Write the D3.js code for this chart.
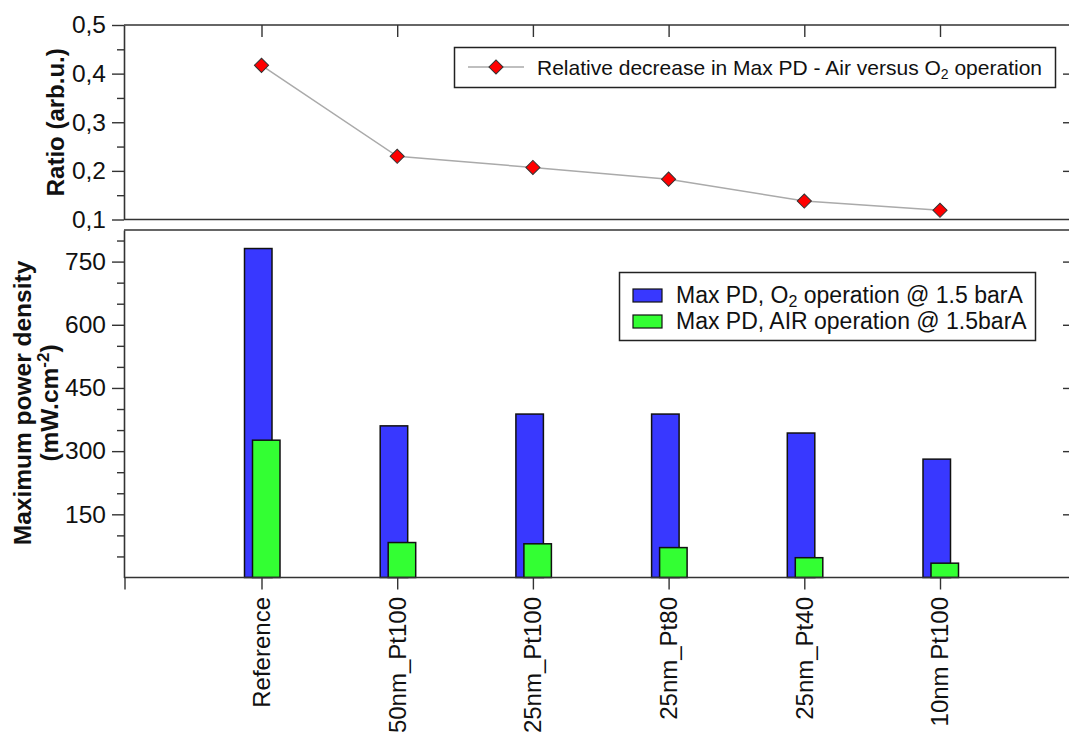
<!DOCTYPE html>
<html>
<head>
<meta charset="utf-8">
<script src="https://cdn.jsdelivr.net/npm/d3@7"></script>
<style>
  html, body { margin: 0; padding: 0; background: #fff; }
  svg { display: block; font-family: "Liberation Sans", Arial, sans-serif; }
</style>
</head>
<body>
<svg id="chart" width="1069" height="735"></svg>
<script>
// Samples along the x axis
const categories = ["Reference", "50nm_Pt100", "25nm_Pt100", "25nm_Pt80", "25nm_Pt40", "10nm Pt100"];
// Maximum power density (mW.cm-2)
const maxPdO2 = [781, 360, 388, 388, 343, 281];
const maxPdAir = [326, 83, 80, 71, 47, 34];
// Relative decrease, air versus O2
const ratio = [0.417, 0.230, 0.207, 0.183, 0.138, 0.119];
// Tick values
const ratioTicks = [0.1, 0.2, 0.3, 0.4, 0.5];
const ratioMinor = [0.15, 0.25, 0.35, 0.45];
const pdTicks = [150, 300, 450, 600, 750];
const pdMinor = [50, 100, 200, 250, 350, 400, 500, 550, 650, 700, 800];

const svg = d3.select("#chart");
const W = 1069;
const axisColor = "#333";
const left = 124;
const tickFont = 24.5;

const x = d3.scalePoint().domain(categories).range([261.5, 940]);

// ---------- Upper panel: ratio ----------
const yR = d3.scaleLinear().domain([0.1, 0.5]).range([219.5, 25]);
const fmtComma = d3.formatLocale({decimal: ",", thousands: ".", grouping: [3], currency: ["", ""]}).format(".1f");

const upper = svg.append("g");
// frame lines
upper.append("line").attr("x1", left).attr("x2", W).attr("y1", yR(0.5)).attr("y2", yR(0.5))
  .attr("stroke", axisColor).attr("stroke-width", 1.6);
upper.append("line").attr("x1", left).attr("x2", W).attr("y1", yR(0.1)).attr("y2", yR(0.1))
  .attr("stroke", axisColor).attr("stroke-width", 1.6);

const axR = upper.append("g").attr("transform", `translate(${left},0)`)
  .call(d3.axisLeft(yR).tickValues(ratioTicks).tickFormat(fmtComma).tickSize(12).tickPadding(6).tickSizeOuter(0));
axR.select(".domain").attr("stroke", axisColor).attr("stroke-width", 1.6);
axR.selectAll(".tick line").attr("stroke", axisColor).attr("stroke-width", 1.4);
axR.selectAll(".tick text").attr("font-size", tickFont).attr("fill", "#111").attr("font-family", "Liberation Sans, Arial, sans-serif");
upper.append("g").attr("transform", `translate(${left},0)`)
  .call(d3.axisLeft(yR).tickValues(ratioMinor).tickFormat("").tickSize(7).tickSizeOuter(0))
  .call(g => g.select(".domain").remove())
  .selectAll(".tick line").attr("stroke", axisColor).attr("stroke-width", 1.4);
// right-side short ticks
upper.append("g").attr("transform", `translate(${W},0)`)
  .call(d3.axisLeft(yR).tickValues(ratioTicks.slice(1, 4)).tickFormat("").tickSize(6).tickSizeOuter(0))
  .call(g => g.select(".domain").remove())
  .selectAll(".tick line").attr("stroke", axisColor).attr("stroke-width", 1.4);
// category ticks hanging from the top edge
upper.append("g").attr("transform", `translate(0,${yR(0.5)})`)
  .call(d3.axisBottom(x).tickSize(12).tickFormat("").tickSizeOuter(0))
  .call(g => g.select(".domain").remove())
  .selectAll(".tick line").attr("stroke", axisColor).attr("stroke-width", 1.4);

upper.append("text")
  .attr("transform", `translate(64,${(yR(0.1) + yR(0.5)) / 2}) rotate(-90)`)
  .attr("text-anchor", "middle").attr("font-weight", "bold").attr("font-size", 24).attr("fill", "#111")
  .text("Ratio (arb.u.)");

const line = d3.line().x((d, i) => x(categories[i])).y(d => yR(d));
upper.append("path").datum(ratio).attr("d", line)
  .attr("fill", "none").attr("stroke", "#aaa").attr("stroke-width", 1.5);

const marker = d3.symbol().type(d3.symbolSquare).size(100);
upper.selectAll("path.pt").data(ratio).join("path").attr("class", "pt")
  .attr("transform", (d, i) => `translate(${x(categories[i])},${yR(d)}) rotate(45)`)
  .attr("d", marker)
  .attr("fill", "#ff0000").attr("stroke", "#333").attr("stroke-width", 1);

// upper legend
const lg1 = upper.append("g");
lg1.append("rect").attr("x", 454.5).attr("y", 47.5).attr("width", 601).attr("height", 40)
  .attr("fill", "#fff").attr("stroke", "#222").attr("stroke-width", 1.5);
lg1.append("line").attr("x1", 468).attr("x2", 524).attr("y1", 67).attr("y2", 67)
  .attr("stroke", "#aaa").attr("stroke-width", 1.5);
lg1.append("path").attr("transform", "translate(496,67) rotate(45)")
  .attr("d", marker)
  .attr("fill", "#ff0000").attr("stroke", "#333").attr("stroke-width", 1);
const t1 = lg1.append("text").attr("x", 537).attr("y", 74.5).attr("font-size", 21).attr("fill", "#111");
t1.append("tspan").text("Relative decrease in Max PD - Air versus O");
t1.append("tspan").attr("font-size", 14).attr("dy", 4).text("2");
t1.append("tspan").attr("dy", -4).text(" operation");

// ---------- Lower panel: power density ----------
const yP = d3.scaleLinear().domain([0, 825]).range([577.5, 230]);
const lower = svg.append("g");
lower.append("line").attr("x1", left).attr("x2", W).attr("y1", yP(825)).attr("y2", yP(825))
  .attr("stroke", axisColor).attr("stroke-width", 1.6);

const axP = lower.append("g").attr("transform", `translate(${left},0)`)
  .call(d3.axisLeft(yP).tickValues(pdTicks).tickSize(12).tickPadding(6).tickSizeOuter(0));
axP.select(".domain").attr("stroke", axisColor).attr("stroke-width", 1.6);
axP.selectAll(".tick line").attr("stroke", axisColor).attr("stroke-width", 1.4);
axP.selectAll(".tick text").attr("font-size", tickFont).attr("fill", "#111").attr("font-family", "Liberation Sans, Arial, sans-serif");
lower.append("g").attr("transform", `translate(${left},0)`)
  .call(d3.axisLeft(yP).tickValues(pdMinor).tickFormat("").tickSize(7).tickSizeOuter(0))
  .call(g => g.select(".domain").remove())
  .selectAll(".tick line").attr("stroke", axisColor).attr("stroke-width", 1.4);
lower.append("g").attr("transform", `translate(${W},0)`)
  .call(d3.axisLeft(yP).tickValues(pdTicks).tickFormat("").tickSize(6).tickSizeOuter(0))
  .call(g => g.select(".domain").remove())
  .selectAll(".tick line").attr("stroke", axisColor).attr("stroke-width", 1.4);

// bars: O2 behind, air in front, slightly offset
const barW = 27.5;
lower.selectAll("rect.o2").data(maxPdO2).join("rect").attr("class", "o2")
  .attr("x", (d, i) => x(categories[i]) - 17).attr("width", barW)
  .attr("y", d => yP(d)).attr("height", d => yP(0) - yP(d))
  .attr("fill", "#3838ff").attr("stroke", "#111").attr("stroke-width", 1.5);
lower.selectAll("rect.air").data(maxPdAir).join("rect").attr("class", "air")
  .attr("x", (d, i) => x(categories[i]) - 9).attr("width", barW)
  .attr("y", d => yP(d)).attr("height", d => yP(0) - yP(d))
  .attr("fill", "#33ff33").attr("stroke", "#111").attr("stroke-width", 1.5);

// x axis
const axX = lower.append("g").attr("transform", `translate(0,${yP(0)})`)
  .call(d3.axisBottom(x).tickSize(12).tickSizeOuter(0).tickFormat(""));
axX.select(".domain").remove();
axX.selectAll(".tick line").attr("stroke", axisColor).attr("stroke-width", 1.4);
lower.append("line").attr("x1", left).attr("x2", W).attr("y1", yP(0)).attr("y2", yP(0))
  .attr("stroke", axisColor).attr("stroke-width", 1.6);
lower.append("line").attr("x1", left + 1).attr("x2", left + 1).attr("y1", yP(0)).attr("y2", yP(0) + 12)
  .attr("stroke", axisColor).attr("stroke-width", 1.4);

lower.selectAll("text.cat").data(categories).join("text").attr("class", "cat")
  .attr("transform", d => `translate(${x(d)},597) rotate(-90)`)
  .attr("text-anchor", "end").attr("dy", "0.35em").attr("font-size", 24).attr("fill", "#111")
  .text(d => d);

// y title (two lines)
const yt = lower.append("text").attr("transform", `translate(31,403) rotate(-90)`)
  .attr("text-anchor", "middle").attr("font-weight", "bold").attr("font-size", 24.5).attr("fill", "#111");
yt.append("tspan").attr("x", 0).attr("y", 0).text("Maximum power density");
const yt2 = yt.append("tspan").attr("x", 0).attr("y", 27);
yt2.append("tspan").text("(mW.cm");
yt2.append("tspan").attr("font-size", 17).attr("dy", -9).text("-2");
yt2.append("tspan").attr("dy", 9).text(")");

// lower legend
const lg2 = lower.append("g");
lg2.append("rect").attr("x", 619.5).attr("y", 272.5).attr("width", 416).attr("height", 68)
  .attr("fill", "#fff").attr("stroke", "#222").attr("stroke-width", 1.5);
const legendItems = [
  {fill: "#3838ff", parts: ["Max PD, O", "2", " operation @ 1.5 barA"]},
  {fill: "#33ff33", parts: ["Max PD, AIR operation @ 1.5barA"]}
];
legendItems.forEach((it, i) => {
  const cy = 295 + i * 26;
  lg2.append("rect").attr("x", 633).attr("y", cy - 6).attr("width", 29).attr("height", 13)
    .attr("fill", it.fill).attr("stroke", "#111").attr("stroke-width", 1.2);
  const t = lg2.append("text").attr("x", 676).attr("y", cy + 8).attr("font-size", 23).attr("fill", "#111");
  if (it.parts.length === 3) {
    t.append("tspan").text(it.parts[0]);
    t.append("tspan").attr("font-size", 16).attr("dy", 4).text(it.parts[1]);
    t.append("tspan").attr("dy", -4).text(it.parts[2]);
  } else {
    t.text(it.parts[0]);
  }
});
</script>
</body>
</html>
